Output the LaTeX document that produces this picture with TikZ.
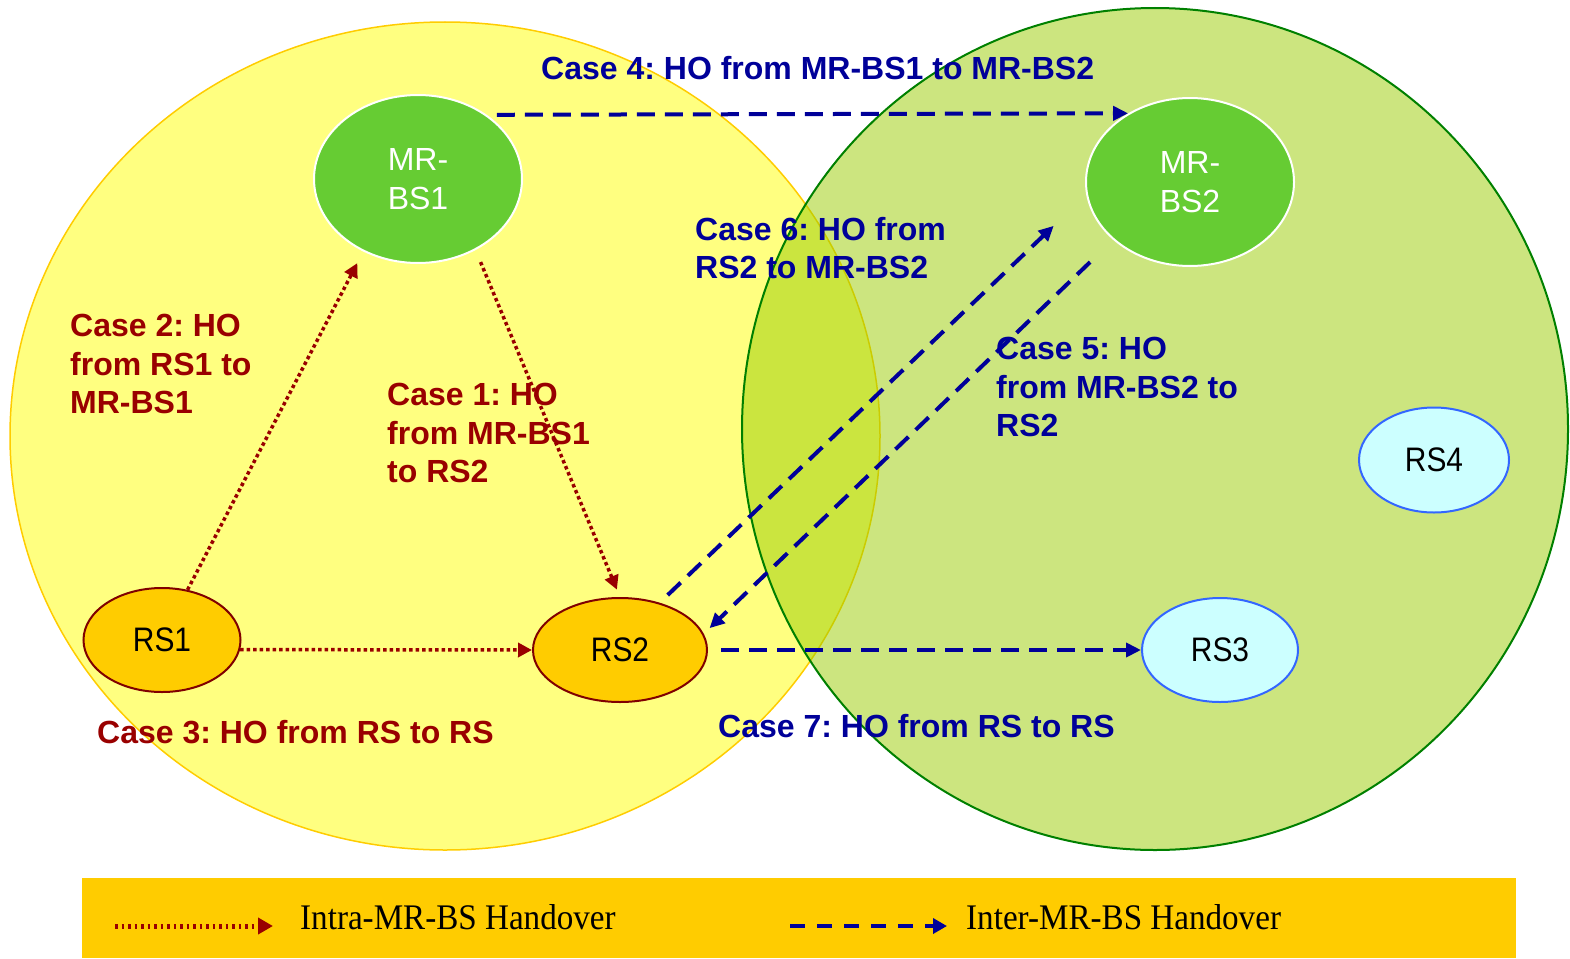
\documentclass[tikz,border=0pt]{standalone}
\usepackage{fontspec}
\setmainfont{Liberation Sans}
\newfontfamily\rsfont[FakeStretch=0.88]{Liberation Sans}
\newfontfamily\legfont[FakeStretch=0.92]{Liberation Serif}
\usetikzlibrary{arrows.meta,shapes.geometric}
\definecolor{navy}{HTML}{000099}
\definecolor{dred}{HTML}{990000}
\definecolor{rsborder}{HTML}{800000}
\definecolor{bsgreen}{HTML}{66CC33}
\definecolor{rsorange}{HTML}{FFCC00}
\definecolor{rscyan}{HTML}{CCFFFF}
\definecolor{rsblue}{HTML}{3366FF}
\definecolor{cellyellow}{HTML}{FFFF80}
\definecolor{cellgreen}{HTML}{99CC00}
\definecolor{celledge}{HTML}{008000}
\definecolor{legbar}{HTML}{FFCC00}
\frenchspacing
\begin{document}
\begin{tikzpicture}[x=1pt,y=-1pt,
  bsnode/.style={ellipse, fill=bsgreen, draw=white, line width=2pt, inner sep=0pt,
    text=white, font=\fontsize{32}{39}\selectfont, align=center,
    minimum width=208pt, minimum height=168pt},
  rsa/.style={ellipse, fill=rsorange, draw=rsborder, line width=2pt, inner sep=0pt,
    font=\rsfont\fontsize{34}{38}\selectfont},
  rsb/.style={ellipse, fill=rscyan, draw=rsblue, line width=2pt, inner sep=0pt,
    font=\rsfont\fontsize{34}{38}\selectfont},
  intra/.style={draw=dred, line width=3.5pt, dash pattern=on 3.5pt off 3pt,
    -{Triangle[length=14pt,width=14pt]}, dred},
  inter/.style={draw=navy, line width=4pt, dash pattern=on 18pt off 10pt,
    -{Triangle[length=15pt,width=14pt]}, navy},
  casered/.style={text=dred, font=\bfseries\fontsize{32}{38.5}\selectfont, inner sep=0pt, align=left},
  caseblue/.style={text=navy, font=\bfseries\fontsize{32}{38.5}\selectfont, inner sep=0pt, align=left},
  legtext/.style={font=\legfont\fontsize{36}{40}\selectfont, inner sep=0pt, anchor=base west}
]
\useasboundingbox (0,0) rectangle (1570,958);
% coverage areas
\fill[cellyellow] (445,436) ellipse [x radius=435pt, y radius=414pt];
\draw[legbar, line width=1.5pt] (445,436) ellipse [x radius=435pt, y radius=414pt];
\fill[cellgreen, fill opacity=0.5] (1155,429) ellipse [x radius=413pt, y radius=421pt];
\draw[celledge, line width=2pt] (1155,429) ellipse [x radius=413pt, y radius=421pt];

% nodes
\node[bsnode] (m1) at (418,179) {MR-\\BS1};
\node[bsnode] (m2) at (1190,182) {MR-\\BS2};
\node[rsa, minimum width=157pt, minimum height=104pt] (rs1) at (162,640) {RS1};
\node[rsa, minimum width=174pt, minimum height=104pt] (rs2) at (620,650) {RS2};
\node[rsb, minimum width=156pt, minimum height=104pt] (rs3) at (1220,650) {RS3};
\node[rsb, minimum width=150pt, minimum height=105pt] (rs4) at (1434,460) {RS4};

% intra-MR-BS handovers
\draw[intra, shorten <=13pt, shorten >=8pt] (m1.-51) -- (rs2.90);
\draw[intra, shorten >=13pt] (rs1.63) -- (m1.233);
\draw[intra] (rs1.-7) -- (rs2.180);

% inter-MR-BS handovers
\draw[inter, shorten <=10pt] (m1.43) -- (m2.132);
\draw[inter, shorten <=32pt, shorten >=8pt] (m2.217) -- (rs2.11);
\draw[inter, shorten <=11pt, shorten >=45pt] (rs2.50) -- (m2.187);
\draw[inter, shorten <=13pt] (rs2.east) -- (rs3.west);

% labels
\node[caseblue, anchor=base west] (c4) at (541,79) {Case 4: HO from MR-BS1 to MR-BS2};
\node[casered, anchor=north west] (c2) at (70,314) {Case 2: HO\\from RS1 to\\MR-BS1};
\node[casered, anchor=north west] (c1) at (387,383) {Case 1: HO\\from MR-BS1\\to RS2};
\node[casered, anchor=base west] (c3) at (97,743) {Case 3: HO from RS to RS};
\node[caseblue, anchor=north west] (c6) at (695,217) {Case 6: HO from\\RS2 to MR-BS2};
\node[caseblue, anchor=north west] (c5) at (996,337) {Case 5: HO\\from MR-BS2 to\\RS2};
\node[caseblue, anchor=base west] (c7) at (718,737) {Case 7: HO from RS to RS};

% legend
\fill[legbar] (82,878) rectangle (1516,958);
\coordinate (l1a) at (115,926);
\coordinate (l1b) at (273,926);
\coordinate (l2a) at (790,926);
\coordinate (l2b) at (947,926);
\draw[draw=dred, line width=5pt, dash pattern=on 2.5pt off 4pt,
  -{Triangle[length=15pt,width=16pt]}, dred] (l1a) -- (l1b);
\draw[draw=navy, line width=4pt, dash pattern=on 15pt off 12pt,
  -{Triangle[length=14pt,width=15pt]}, navy] (l2a) -- (l2b);
\node[legtext] (lt1) at (300,929) {Intra-MR-BS Handover};
\node[legtext] (lt2) at (966,929) {Inter-MR-BS Handover};
\end{tikzpicture}
\end{document}
